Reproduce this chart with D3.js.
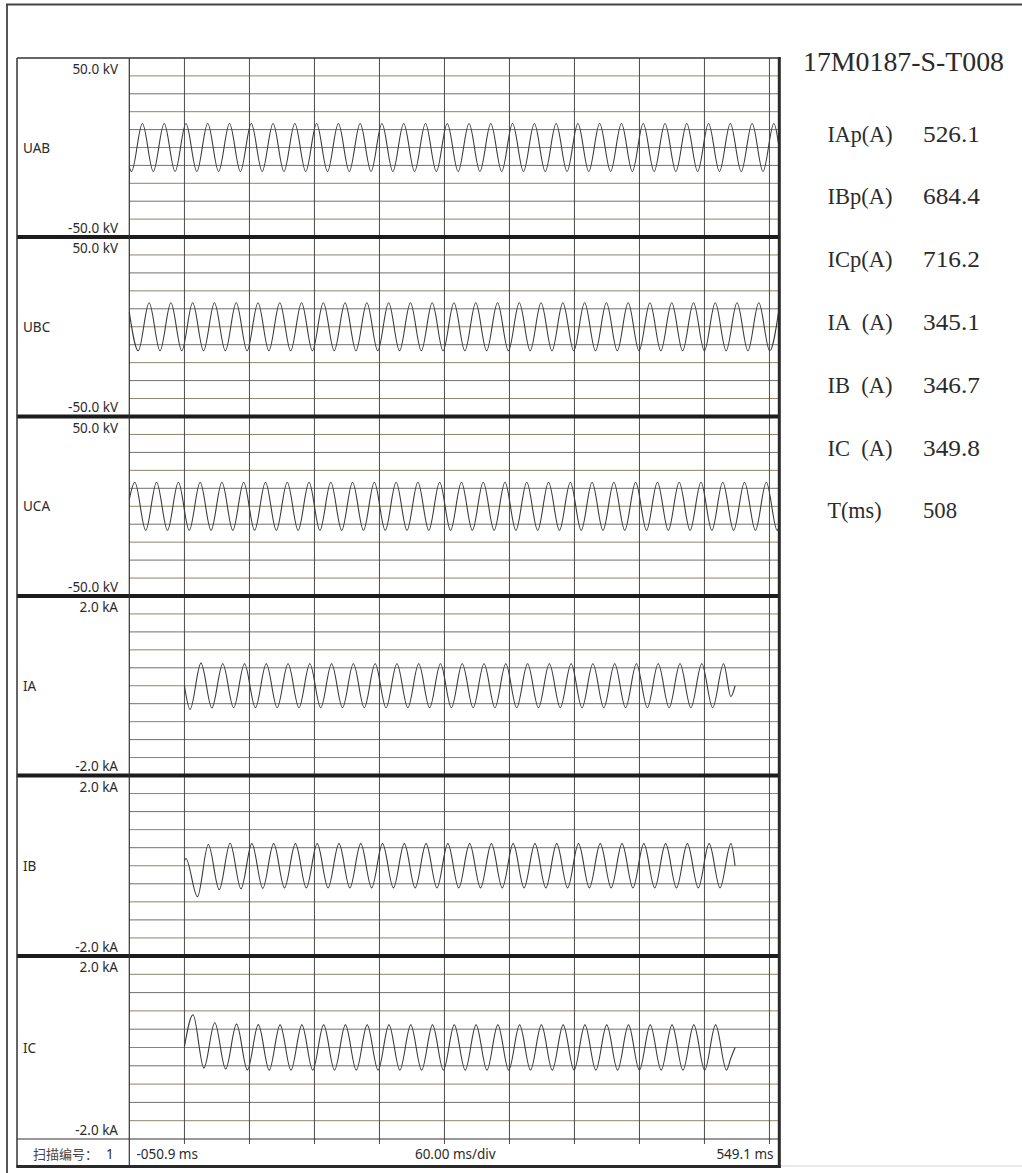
<!DOCTYPE html>
<html>
<head>
<meta charset="utf-8">
<script src="https://cdn.jsdelivr.net/npm/d3@7"></script>
<style>
  body { margin: 0; background: #fff; }
  svg { display: block; }
</style>
</head>
<body>
<svg id="chart" width="1022" height="1173"></svg>
<script>
// ---- Recording data ----
const channels = ["UAB", "UBC", "UCA", "IA", "IB", "IC"];
const fullScale = [50, 50, 50, 2, 2, 2];              // kV / kA at the panel edge
const topTicks = ["50.0 kV", "50.0 kV", "50.0 kV", "2.0 kA", "2.0 kA", "2.0 kA"];
const bottomTicks = ["-50.0 kV", "-50.0 kV", "-50.0 kV", "-2.0 kA", "-2.0 kA", "-2.0 kA"];

const timeDomain = [-50.9, 549.1];                     // ms
const gridStepMs = 60;
const timeLabels = ["-050.9 ms", "60.00 ms/div", "549.1 ms"];
const sweepLabel = "扫描编号：";
const sweepNumber = "1";

const recordId = "17M0187-S-T008";
const paramNames = ["IAp(A)", "IBp(A)", "ICp(A)", "IA\u2002(A)", "IB\u2002(A)", "IC\u2002(A)", "T(ms)"];
const paramValues = ["526.1", "684.4", "716.2", "345.1", "346.7", "349.8", "508"];

// Waveforms: successive half-cycle extremes, spaced half a cycle apart
const halfCycleMs = 10.05;
const firstExtremumMs = [-48.85, -42.65, -45.8, 5.2, 12.0, 7.9];

const uabExtrema = [
  -13.4, 13.4, -13.4, 13.4, -13.4, 13.4, -13.4, 13.4, -13.4, 13.4,
  -13.4, 13.4, -13.4, 13.4, -13.4, 13.4, -13.4, 13.4, -13.4, 13.4,
  -13.4, 13.4, -13.4, 13.4, -13.4, 13.4, -13.4, 13.4, -13.4, 13.4,
  -13.4, 13.4, -13.4, 13.4, -13.4, 13.4, -13.4, 13.4, -13.4, 13.4,
  -13.4, 13.4, -13.4, 13.4, -13.4, 13.4, -13.4, 13.4, -13.4, 13.4,
  -13.4, 13.4, -13.4, 13.4, -13.4, 13.4, -13.4, 13.4, -13.4, 13.4
];
const ubcExtrema = [
  -13.4, 13.4, -13.4, 13.4, -13.4, 13.4, -13.4, 13.4, -13.4, 13.4,
  -13.4, 13.4, -13.4, 13.4, -13.4, 13.4, -13.4, 13.4, -13.4, 13.4,
  -13.4, 13.4, -13.4, 13.4, -13.4, 13.4, -13.4, 13.4, -13.4, 13.4,
  -13.4, 13.4, -13.4, 13.4, -13.4, 13.4, -13.4, 13.4, -13.4, 13.4,
  -13.4, 13.4, -13.4, 13.4, -13.4, 13.4, -13.4, 13.4, -13.4, 13.4,
  -13.4, 13.4, -13.4, 13.4, -13.4, 13.4, -13.4, 13.4, -13.4
];
const ucaExtrema = [
  13.4, -13.4, 13.4, -13.4, 13.4, -13.4, 13.4, -13.4, 13.4, -13.4,
  13.4, -13.4, 13.4, -13.4, 13.4, -13.4, 13.4, -13.4, 13.4, -13.4,
  13.4, -13.4, 13.4, -13.4, 13.4, -13.4, 13.4, -13.4, 13.4, -13.4,
  13.4, -13.4, 13.4, -13.4, 13.4, -13.4, 13.4, -13.4, 13.4, -13.4,
  13.4, -13.4, 13.4, -13.4, 13.4, -13.4, 13.4, -13.4, 13.4, -13.4,
  13.4, -13.4, 13.4, -13.4, 13.4, -13.4, 13.4, -13.4, 13.4, -13.4
];
const iaExtrema = [
  -0.526, 0.505, -0.495, 0.49, -0.49, 0.49, -0.49, 0.49, -0.49, 0.49,
  -0.49, 0.49, -0.49, 0.49, -0.49, 0.49, -0.49, 0.49, -0.49, 0.49,
  -0.49, 0.49, -0.49, 0.49, -0.49, 0.49, -0.49, 0.49, -0.49, 0.49,
  -0.49, 0.49, -0.49, 0.49, -0.49, 0.49, -0.49, 0.49, -0.49, 0.49,
  -0.49, 0.49, -0.49, 0.49, -0.49, 0.49, -0.49, 0.49, -0.49, 0.49
];
const ibExtrema = [
  -0.684, 0.47, -0.53, 0.50, -0.51, 0.49, -0.50, 0.49, -0.49, 0.49,
  -0.49, 0.49, -0.49, 0.49, -0.49, 0.49, -0.49, 0.49, -0.49, 0.49,
  -0.49, 0.49, -0.49, 0.49, -0.49, 0.49, -0.49, 0.49, -0.49, 0.49,
  -0.49, 0.49, -0.49, 0.49, -0.49, 0.49, -0.49, 0.49, -0.49, 0.49,
  -0.49, 0.49, -0.49, 0.49, -0.49, 0.49, -0.49, 0.49, -0.49, 0.49
];
const icExtrema = [
  0.716, -0.45, 0.54, -0.47, 0.51, -0.49, 0.50, -0.495, 0.495, -0.495,
  0.495, -0.495, 0.495, -0.495, 0.495, -0.495, 0.495, -0.495, 0.495, -0.495,
  0.495, -0.495, 0.495, -0.495, 0.495, -0.495, 0.495, -0.495, 0.495, -0.495,
  0.495, -0.495, 0.495, -0.495, 0.495, -0.495, 0.495, -0.495, 0.495, -0.495,
  0.495, -0.495, 0.495, -0.495, 0.495, -0.495, 0.495, -0.495, 0.495, -0.495
];
const extrema = [uabExtrema, ubcExtrema, ucaExtrema, iaExtrema, ibExtrema, icExtrema];

// Samples before the first and after the last extreme: [ms, value]
const leadIn = [
  [[-50.9, -11]], [[-50.9, 8]], [[-50.9, 4]],
  [[0, 0]], [[0, 0.11], [1.3, 0.16]], [[0, 0.02]]
];
const tail = [
  [[549.1, -1]], [[549.1, 11]], [[549.1, -11]],
  [[504.4, -0.24], [508.3, 0]], [[508.3, 0]], [[504.4, -0.23], [505.4, -0.17], [508.3, 0]]
];

// ---- Layout ----
const svg = d3.select("#chart");
const frameLeft = 17, frameTop = 58, frameRight = 779.3, frameBottom = 1166.5;
const plotLeft = 129.3, plotRight = 779.3;
const panelEdges = [58, 237, 416.5, 596, 775.5, 956, 1139];

const x = d3.scaleLinear().domain(timeDomain).range([plotLeft, plotRight]);

svg.append("rect").attr("width", 1022).attr("height", 1173).attr("fill", "#fff");

// page border
svg.append("line").attr("x1", 7).attr("x2", 7).attr("y1", 4).attr("y2", 1173)
  .attr("stroke", "#555").attr("stroke-width", 2);
svg.append("line").attr("x1", 6).attr("x2", 1022).attr("y1", 4.5).attr("y2", 4.5)
  .attr("stroke", "#444").attr("stroke-width", 2);
svg.append("line").attr("x1", 781).attr("x2", 1022).attr("y1", 1166).attr("y2", 1166)
  .attr("stroke", "#d4d4d4").attr("stroke-width", 1);

const grid = svg.append("g");
const waves = svg.append("g");
const frame = svg.append("g");
const labels = svg.append("g").attr("font-family", "'Noto Sans', 'DejaVu Sans', sans-serif")
  .attr("font-size", 13.5).attr("fill", "#2a2a2a");

const lineGen = d3.line().curve(d3.curveMonotoneX);

channels.forEach((name, i) => {
  const top = panelEdges[i], bottom = panelEdges[i + 1];
  const R = fullScale[i];
  const y = d3.scaleLinear().domain([-R, R]).range([bottom, top]);

  // horizontal divisions
  const levels = d3.range(1, 10).map(k => -R + k * R / 5);
  grid.selectAll(null).data(levels).join("line")
    .attr("x1", plotLeft).attr("x2", plotRight)
    .attr("y1", d => y(d)).attr("y2", d => y(d))
    .attr("stroke", (d, k) => k % 2 ? "#707070" : "#8c846c")
    .attr("stroke-width", 1);

  // waveform
  const pts = leadIn[i]
    .concat(extrema[i].map((v, k) => [firstExtremumMs[i] + k * halfCycleMs, v]))
    .concat(tail[i]);
  lineGen.x(d => x(d[0])).y(d => y(d[1]));
  waves.append("path").attr("d", lineGen(pts))
    .attr("fill", "none").attr("stroke", "#3a3a3a").attr("stroke-width", 1.1);

  // scale labels and channel name
  labels.append("text").attr("x", 118).attr("y", top + 16)
    .attr("text-anchor", "end").text(topTicks[i]);
  labels.append("text").attr("x", 118).attr("y", bottom - 4.5)
    .attr("text-anchor", "end").text(bottomTicks[i]);
  labels.append("text").attr("x", 23).attr("y", y(0) + 5).text(name);
});

// vertical time divisions (with short ticks into the time row)
const timeGrid = d3.range(0, timeDomain[1], gridStepMs);
grid.selectAll(null).data(timeGrid).join("line")
  .attr("x1", d => x(d)).attr("x2", d => x(d))
  .attr("y1", frameTop).attr("y2", panelEdges[6] + 5)
  .attr("stroke", "#4a4a4a").attr("stroke-width", 1);

// panel separators
frame.selectAll(null).data(panelEdges.slice(1, 6)).join("line")
  .attr("x1", frameLeft).attr("x2", frameRight)
  .attr("y1", d => d).attr("y2", d => d)
  .attr("stroke", "#1c1c1c").attr("stroke-width", 4);
// bottom of last panel
frame.append("line").attr("x1", frameLeft).attr("x2", frameRight)
  .attr("y1", panelEdges[6]).attr("y2", panelEdges[6])
  .attr("stroke", "#333").attr("stroke-width", 1);
// label column divider
frame.append("line").attr("x1", plotLeft).attr("x2", plotLeft)
  .attr("y1", frameTop).attr("y2", frameBottom)
  .attr("stroke", "#333").attr("stroke-width", 1.2);
// outer frame
frame.append("line").attr("x1", frameLeft).attr("x2", frameLeft)
  .attr("y1", frameTop).attr("y2", frameBottom).attr("stroke", "#333").attr("stroke-width", 1.5);
frame.append("line").attr("x1", frameLeft).attr("x2", frameRight + 1.5)
  .attr("y1", frameTop).attr("y2", frameTop).attr("stroke", "#333").attr("stroke-width", 1.5);
frame.append("line").attr("x1", frameRight).attr("x2", frameRight)
  .attr("y1", frameTop - 0.75).attr("y2", frameBottom + 1.5).attr("stroke", "#2a2a2a").attr("stroke-width", 3);
frame.append("line").attr("x1", frameLeft - 0.75).attr("x2", frameRight + 1.5)
  .attr("y1", frameBottom).attr("y2", frameBottom).attr("stroke", "#2a2a2a").attr("stroke-width", 3);

// time row
const axisY = 1159;
const sweep = labels.append("text").attr("y", axisY)
  .attr("font-family", "'Noto Sans CJK SC', sans-serif").attr("font-size", 13).attr("fill", "#444");
sweep.append("tspan").attr("x", 33).text(sweepLabel);
sweep.append("tspan").attr("x", 106).attr("font-family", "'Noto Sans', sans-serif")
  .attr("font-size", 13.5).attr("fill", "#2a2a2a").text(sweepNumber);
labels.append("text").attr("x", 136.5).attr("y", axisY).text(timeLabels[0]);
labels.append("text").attr("x", (plotLeft + plotRight) / 2 + 1).attr("y", axisY)
  .attr("text-anchor", "middle").text(timeLabels[1]);
labels.append("text").attr("x", 773.5).attr("y", axisY)
  .attr("text-anchor", "end").text(timeLabels[2]);

// record id and measured values
const side = svg.append("g").attr("font-family", "'Liberation Serif', 'DejaVu Serif', serif")
  .attr("fill", "#2b2b2b");
function fitText(str, x0, width, yPos, size) {
  side.append("text").attr("x", x0).attr("y", yPos).attr("font-size", size)
    .attr("textLength", width).attr("lengthAdjust", "spacingAndGlyphs").text(str);
}
fitText(recordId, 803, 201, 71, 28);
paramNames.forEach((n, k) => {
  const yy = 141.5 + k * 62.8;
  const nameW = n.length === 5 ? 54 : 65;
  fitText(n, 827.5, nameW, yy, 24);
  fitText(paramValues[k], 923, paramValues[k].length === 3 ? 34 : 57, yy, 24);
});
</script>
</body>
</html>
